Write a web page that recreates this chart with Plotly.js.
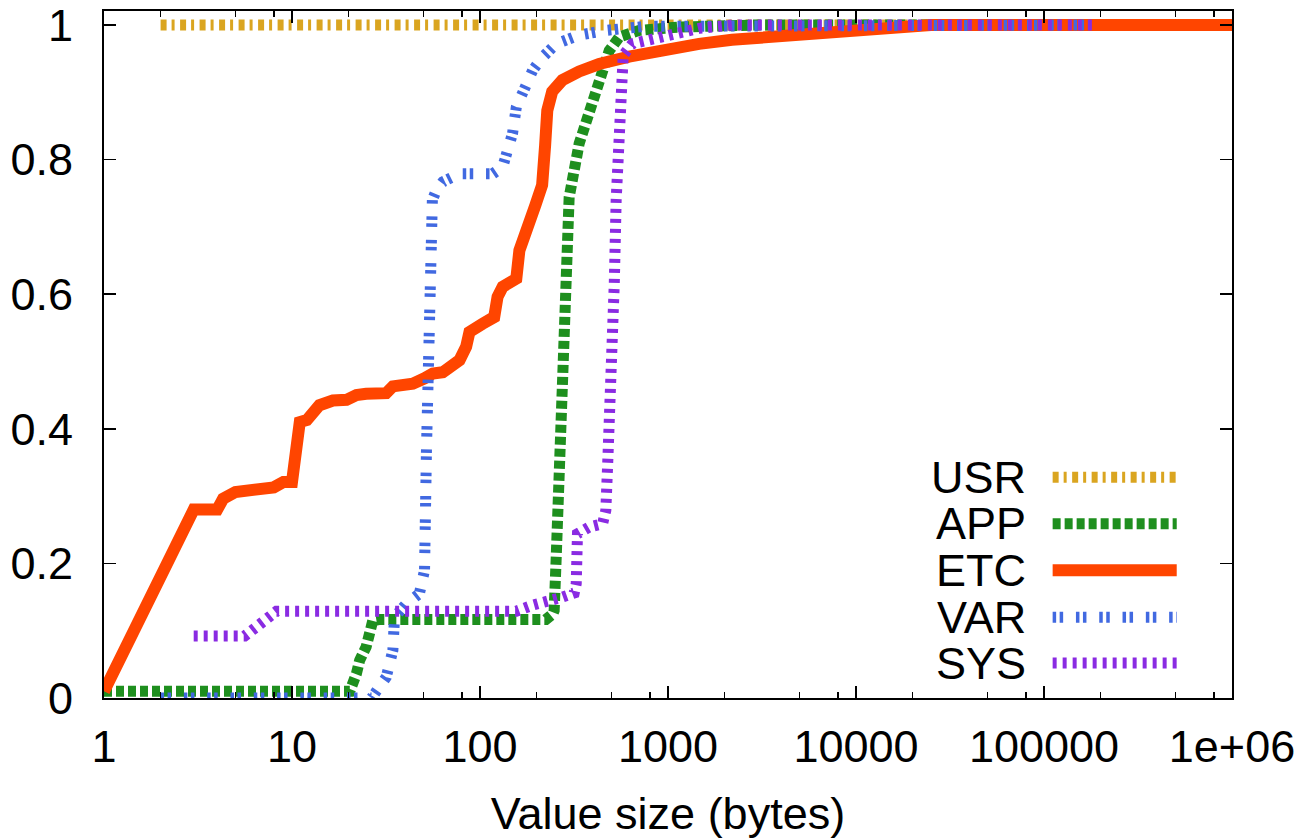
<!DOCTYPE html>
<html>
<head>
<meta charset="utf-8">
<script src="https://cdn.plot.ly/plotly-3.0.1.min.js"></script>
<style>html,body{margin:0;padding:0;background:#fff;}#chart{width:1309px;height:839px;}</style>
</head>
<body>
<div id="chart"></div>
<script>
// ---- data ----
const seriesNames = ['USR', 'APP', 'ETC', 'VAR', 'SYS'];

const usrX = [2, 1e6];
const usrY = [1, 1];

const appX = [1, 20.3, 22, 22.9, 24.8, 25.9, 26.9, 29, 224, 244, 248, 254, 259, 264, 275, 287, 298, 337, 381, 430, 487, 550, 703, 1145, 3000, 1e6];
const appY = [0.01, 0.01, 0.036, 0.056, 0.076, 0.096, 0.115, 0.1165, 0.1165, 0.125, 0.13, 0.205, 0.269, 0.418, 0.566, 0.665, 0.744, 0.824, 0.873, 0.918, 0.962, 0.982, 0.992, 0.997, 1, 1];

const etcX = [1, 3, 4, 4.3, 5, 6, 7, 8, 9, 10, 11, 12, 14, 16.5, 19.5, 22, 24.8, 31.7, 34.4, 43.9, 50.7, 56.1, 63.4, 71.6, 77.8, 84.4, 87.9, 103, 119, 124, 132, 156, 162, 197, 214, 222, 228, 242, 274, 337, 430, 621, 966, 1463, 2190, 4970, 11200, 25000, 1e6];
const etcY = [0.01, 0.28, 0.28, 0.296, 0.306, 0.309, 0.314, 0.313, 0.321, 0.321, 0.41, 0.413, 0.435, 0.442, 0.443, 0.45, 0.452, 0.453, 0.463, 0.467, 0.475, 0.482, 0.484, 0.497, 0.502, 0.522, 0.544, 0.556, 0.566, 0.596, 0.611, 0.623, 0.665, 0.732, 0.762, 0.821, 0.873, 0.901, 0.918, 0.931, 0.942, 0.953, 0.965, 0.972, 0.978, 0.985, 0.995, 1, 1];

const varX = [2, 26.5, 31.7, 34.4, 35.1, 40.5, 47.6, 50.7, 51.9, 53.9, 55.8, 58.5, 63.4, 77.8, 117, 132, 138, 149, 156, 169, 191, 215, 254, 337, 467, 762, 187000];
const varY = [0, 0, 0.031, 0.071, 0.12, 0.14, 0.155, 0.19, 0.368, 0.665, 0.74, 0.754, 0.767, 0.779, 0.779, 0.789, 0.809, 0.839, 0.878, 0.903, 0.933, 0.952, 0.972, 0.985, 0.992, 0.998, 1];

const sysX = [3, 5.6, 8.27, 156, 191, 234, 275, 317, 325, 330, 381, 449, 467, 477, 487, 499, 507, 518, 530, 550, 564, 578, 645, 973, 1466, 2190, 187000];
const sysY = [0.092, 0.092, 0.129, 0.129, 0.138, 0.143, 0.15, 0.156, 0.17, 0.244, 0.254, 0.259, 0.279, 0.343, 0.393, 0.467, 0.541, 0.616, 0.74, 0.843, 0.918, 0.955, 0.972, 0.985, 0.995, 1, 1];

const xTickVals = [1, 10, 100, 1000, 10000, 100000, 1000000];
const xTickText = ['1', '10', '100', '1000', '10000', '100000', '1e+06'];
const yTickVals = [0, 0.2, 0.4, 0.6, 0.8, 1];
const yTickText = ['0', '0.2', '0.4', '0.6', '0.8', '1'];
const xTitle = 'Value size (bytes)';

// ---- styles ----
const FONT = 'Liberation Sans, Arial, Helvetica, sans-serif';
const styles = {
  USR: {color: '#DAA520', width: 11, dash: '6px,5px,3px,5.5px'},
  APP: {color: '#1E8F1E', width: 11, dash: '8px,4px'},
  ETC: {color: '#FF4500', width: 12, dash: 'solid'},
  VAR: {color: '#4169E1', width: 11, dash: '3.5px,3.5px,3.5px,12.8px'},
  SYS: {color: '#8A2BE2', width: 11, dash: '4px,6px'}
};
const data = {
  USR: [usrX, usrY], APP: [appX, appY], ETC: [etcX, etcY], VAR: [varX, varY], SYS: [sysX, sysY]
};

const minorVals = [];
for (let d = 0; d < 6; d++) {
  [2, 5, 8].forEach(m => minorVals.push(m * Math.pow(10, d)));
}

const traces = seriesNames.map(n => ({
  type: 'scatter', mode: 'lines', name: n,
  x: data[n][0], y: data[n][1],
  line: {color: styles[n].color, width: styles[n].width, dash: styles[n].dash},
  showlegend: false, hoverinfo: 'skip'
}));

// custom legend: text on left, sample on right (gnuplot style)
const legendRowY = [0.328, 0.259, 0.190, 0.120, 0.052];
const shapes = [];
const annotations = [];
seriesNames.forEach((n, i) => {
  shapes.push({
    type: 'line', xref: 'paper', yref: 'y',
    x0: 0.841, x1: 0.951, y0: legendRowY[i], y1: legendRowY[i],
    line: {color: styles[n].color, width: styles[n].width, dash: styles[n].dash}
  });
  annotations.push({
    xref: 'paper', yref: 'y', x: 0.819, y: legendRowY[i],
    xanchor: 'right', yanchor: 'middle', showarrow: false,
    text: n, font: {family: FONT, size: 45, color: '#000'}
  });
});

const layout = {
  width: 1309, height: 839,
  margin: {l: 104, r: 77, t: 11, b: 141, pad: 0},
  paper_bgcolor: '#fff', plot_bgcolor: '#fff',
  font: {family: FONT, size: 45, color: '#000'},
  showlegend: false,
  xaxis: {
    type: 'log', range: [0, 6],
    tickmode: 'array', tickvals: xTickVals, ticktext: xTickText,
    ticks: 'inside', ticklen: 12, tickwidth: 1.5, tickcolor: '#000',
    showline: true, linecolor: '#000', linewidth: 2, mirror: 'ticks',
    showgrid: false, zeroline: false,
    tickfont: {family: FONT, size: 45, color: '#000'},
    ticklabelstandoff: 8, ticklabeloverflow: 'allow',
    minor: {tickmode: 'array', tickvals: minorVals, ticks: 'inside', ticklen: 6, tickwidth: 1.5, tickcolor: '#000', showgrid: false},
    title: {text: xTitle, font: {family: FONT, size: 45, color: '#000'}, standoff: 27}
  },
  yaxis: {
    range: [0, 1.0208],
    tickmode: 'array', tickvals: yTickVals, ticktext: yTickText,
    ticks: 'inside', ticklen: 12, tickwidth: 1.5, tickcolor: '#000',
    showline: true, linecolor: '#000', linewidth: 2, mirror: 'ticks',
    showgrid: false, zeroline: false,
    tickfont: {family: FONT, size: 45, color: '#000'},
    ticklabelstandoff: 20, ticklabeloverflow: 'allow'
  },
  shapes: shapes,
  annotations: annotations
};

Plotly.newPlot('chart', traces, layout, {displayModeBar: false, staticPlot: true});
</script>
</body>
</html>
